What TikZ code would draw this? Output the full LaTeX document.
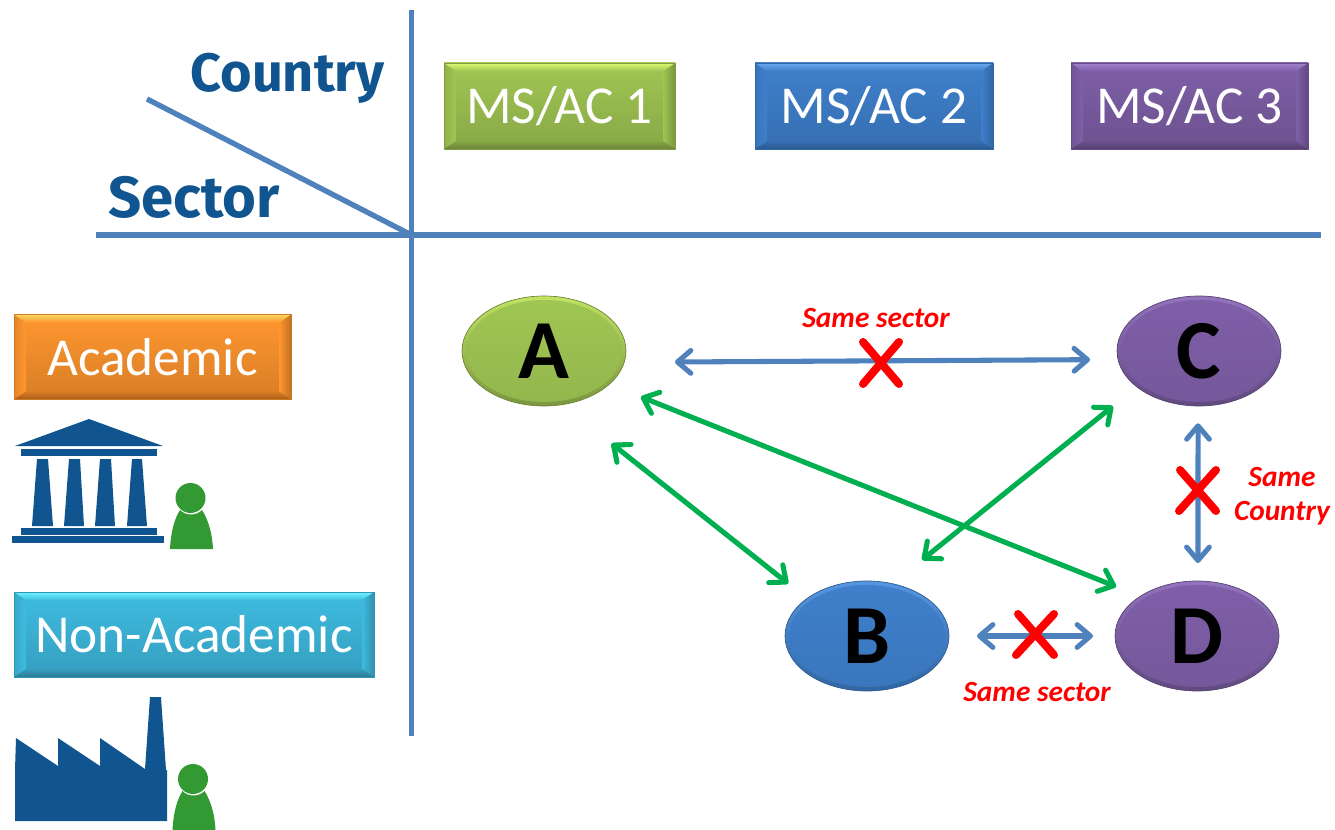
\documentclass[tikz,border=0pt]{standalone}
\usepackage{fontspec}
\usetikzlibrary{shapes.geometric,arrows.meta,calc}
\newfontfamily\carlito{Carlito}
\newfontfamily\headfont{Fira Sans}
\definecolor{lineblue}{HTML}{4F81BD}
\definecolor{navy}{HTML}{10558F}
\definecolor{arrowgreen}{HTML}{00B050}
\definecolor{persongreen}{HTML}{339933}
\definecolor{gbase}{HTML}{A0C653}\definecolor{glight}{HTML}{DDFB70}\definecolor{gdark}{HTML}{6B8238}
\definecolor{bbase}{HTML}{3F80CC}\definecolor{blight}{HTML}{6AA8F0}\definecolor{bdark}{HTML}{2A5A90}
\definecolor{pbase}{HTML}{7F5FA8}\definecolor{plight}{HTML}{A283CF}\definecolor{pdark}{HTML}{54406F}
\definecolor{obase}{HTML}{FF9730}\definecolor{olight}{HTML}{FFD860}\definecolor{odark}{HTML}{A85D18}
\definecolor{tbase}{HTML}{3DBCE0}\definecolor{tlight}{HTML}{6FF4FF}\definecolor{tdark}{HTML}{2E7A96}
\tikzset{
  x=0.75pt,y=-0.75pt,
  size/.style 2 args={minimum width=#1*0.75pt,minimum height=#2*0.75pt,inner sep=0pt,outer sep=0pt},
  bevelbox/.style n args={3}{rectangle,draw=#1!80!black,line width=0.4pt,text=white,
    font=\carlito\fontsize{40}{42}\selectfont,
    top color=#1,bottom color=#3!45!#1,
    path picture={
      \coordinate (tl) at (path picture bounding box.north west);
      \coordinate (tr) at (path picture bounding box.north east);
      \coordinate (bl) at (path picture bounding box.south west);
      \coordinate (br) at (path picture bounding box.south east);
      \shade[left color=#3!30!#1,right color=#1] (bl)--(tl)--([shift={(12,8)}]tl)--([shift={(12,-8)}]bl)--cycle;
      \shade[left color=#1,right color=#3!70!#1] (br)--(tr)--([shift={(-12,8)}]tr)--([shift={(-12,-8)}]br)--cycle;
      \shade[top color=#2,bottom color=#1] (tl)--(tr)--([shift={(-12,8)}]tr)--([shift={(12,8)}]tl)--cycle;
      \shade[top color=#3!45!#1,bottom color=#3] ([shift={(12,-8)}]bl)--([shift={(-12,-8)}]br)--(br)--(bl)--cycle;
    }},
  bevelell/.style n args={3}{ellipse,draw=#3,line width=0.5pt,text=black,
    font=\carlito\bfseries\fontsize{63}{65}\selectfont,
    top color=#2!55!#1,bottom color=#3!70!#1,
    path picture={
      \shade[top color=#1,bottom color=#1!92!black]
        (path picture bounding box.center) ellipse [x radius=78,y radius=51];
    }},
  axis/.style={lineblue,line width=4pt},
  bluearrow/.style={lineblue,line width=3.8pt,{Straight Barb[round,length=10pt,width=17pt]}-{Straight Barb[round,length=10pt,width=17pt]}},
  greenarrow/.style={arrowgreen,line width=3.8pt,{Straight Barb[round,length=10pt,width=17pt]}-{Straight Barb[round,length=10pt,width=17pt]}},
  cross/.style={red,line width=6pt,line cap=round},
  redlabel/.style={text=red,align=center,inner sep=0pt,font=\carlito\bfseries\itshape\fontsize{22}{25.5}\selectfont},
  headlabel/.style={text=navy,inner sep=0pt,font=\headfont\bfseries\fontsize{40.5}{44}\selectfont},
  person/.pic={
    \fill[persongreen] (0,0) circle [radius=15];
    \fill[persongreen] (-20.5,51) .. controls (-19.5,32) and (-15.5,20) .. (-10.5,12)
       .. controls (-5,18) and (6,18) .. (11.5,12)
       .. controls (16.5,20) and (21.5,32) .. (22.5,51) -- cycle;
  }
}
\begin{document}
\begin{tikzpicture}
\useasboundingbox (0,0) rectangle (1335,830);
% axes
\coordinate (axisTop) at (411.5,10);
\coordinate (axisBottom) at (411.5,736);
\coordinate (axisLeft) at (96,235);
\coordinate (axisRight) at (1321,235);
\coordinate (axisOrigin) at (411.5,235);
\coordinate (diagStart) at (147,99);
\draw[axis] (axisTop) -- (axisBottom);
\draw[axis] (axisLeft) -- (axisRight);
\draw[axis] (diagStart) -- (axisOrigin);
% heads
\node[headlabel] (country) at (287.5,78) {Country};
\node[headlabel,font=\headfont\bfseries\fontsize{43.5}{46}\selectfont] (sector) at (194,197) {Sector};
% boxes
\node[bevelbox={gbase}{glight}{gdark},size={231}{86}] (ms1) at (559.5,106) {MS/AC 1};
\node[bevelbox={bbase}{blight}{bdark},size={238}{86}] (ms2) at (874,106) {MS/AC 2};
\node[bevelbox={pbase}{plight}{pdark},size={237}{86}] (ms3) at (1189.5,106) {MS/AC 3};
\node[bevelbox={obase}{olight}{odark},size={277}{85}] (acad) at (152.5,357) {Academic};
\node[bevelbox={tbase}{tlight}{tdark},size={360}{85}] (nonacad) at (194,634.5) {Non-Academic};
% ellipses
\node[bevelell={gbase}{glight}{gdark},size={164}{110}] (A) at (544,351) {A};
\node[bevelell={pbase}{plight}{pdark},size={164}{110}] (C) at (1199,351) {C};
\node[bevelell={bbase}{blight}{bdark},size={164}{110}] (B) at (867,636) {B};
\node[bevelell={pbase}{plight}{pdark},size={164}{110}] (D) at (1197,636) {D};
% connectors
\draw[bluearrow,shorten <=38pt,shorten >=21pt] (A.-8) -- (C.186.3);
\draw[greenarrow,shorten <=47pt,shorten >=18pt] (A.-71.8) -- (B.148.8);
\draw[greenarrow,shorten <=25.5pt,shorten >=19.5pt] (A.-27.1) -- (D.145.8);
\draw[greenarrow,shorten <=28.5pt,shorten >=23pt] (B.64.1) -- (C.210.6);
\draw[bluearrow,shorten <=13pt,shorten >=13.5pt] (C.-91) -- (D.89);
\draw[bluearrow,shorten <=21pt,shorten >=16.5pt] (B.east) -- (D.west);
% crosses
\draw[cross] (863,342) -- (899,384) (863,384) -- (899,342);
\draw[cross] (1180,470) -- (1216,511) (1179,511) -- (1216,470);
\draw[cross] (1018,614) -- (1054,655) (1016,655) -- (1054,614);
% red labels
\node[redlabel] (lab1) at (876,318) {Same sector};
\node[redlabel] (lab2) at (1282,496) {Same\\Country};
\node[redlabel] (lab3) at (1037,692) {Same sector};
% temple
\fill[navy] (15,446) -- (89,419) -- (163,446) -- cycle;
\fill[navy] (21,449) rectangle (157,456);
\fill[navy] (37,459) -- (48,459) -- (53,526) -- (32,526) -- cycle;
\fill[navy] (69,459) -- (80,459) -- (84,526) -- (64,526) -- cycle;
\fill[navy] (100,459) -- (111,459) -- (115,526) -- (95,526) -- cycle;
\fill[navy] (132,459) -- (142,459) -- (147,526) -- (127,526) -- cycle;
\fill[navy] (21,528) rectangle (157,535);
\fill[navy] (12,536) rectangle (164,543);
% factory
\fill[navy] (15,821) -- (15,770) -- (16,738) -- (58,766) -- (58,738) -- (100,766) -- (100,738) -- (145,769)
  -- (150,697) -- (161,697) -- (166,770) -- (167,770) -- (167,821) -- cycle;
% people
\pic at (190.5,498) {person};
\pic at (193,779) {person};
\end{tikzpicture}
\end{document}
